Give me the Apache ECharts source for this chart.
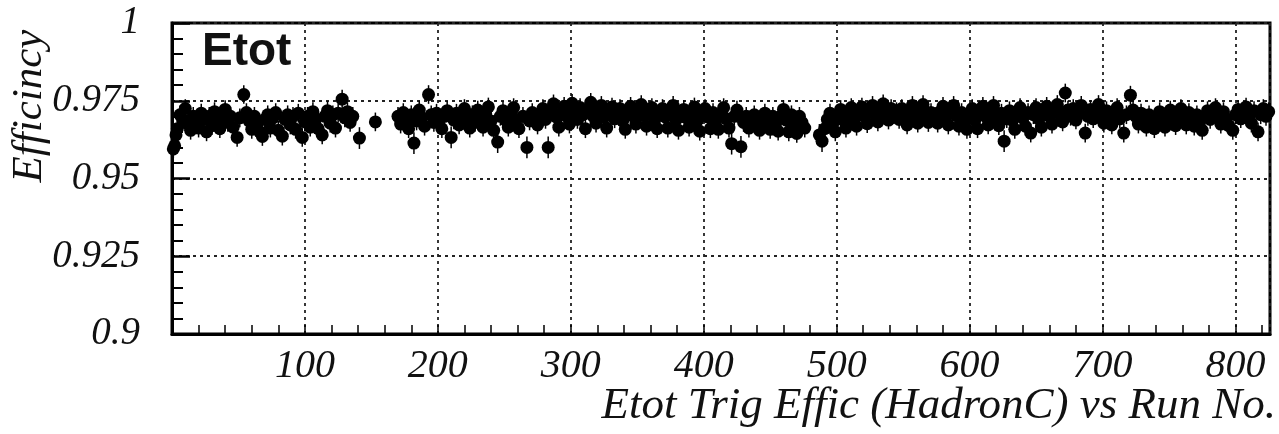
<!DOCTYPE html>
<html>
<head>
<meta charset="utf-8">
<script src="https://cdn.jsdelivr.net/npm/echarts@6/dist/echarts.min.js"></script>
<style>html,body{margin:0;padding:0;background:#fff}#c{width:1279px;height:434px}</style>
</head>
<body>
<div id="c"></div>
<script>
// [run, efficiency, error]
const segA = [
[1,0.9595,0.003],[2,0.9605,0.003],[3,0.9640,0.003],[4,0.9660,0.003],[6,0.9705,0.003],[8,0.9690,0.003],[10,0.9725,0.003],[12,0.9675,0.003],[14,0.9655,0.003],[16,0.9700,0.003],
[18,0.9685,0.003],[20,0.9662,0.003],[22,0.9710,0.003],[24,0.9690,0.003],[26,0.9650,0.003],[28,0.9700,0.003],[30,0.9670,0.003],[32,0.9715,0.003],[34,0.9692,0.003],[36,0.9660,0.003],
[38,0.9705,0.003],[40,0.9722,0.003],[42,0.9680,0.003],[44,0.9700,0.003],[46,0.9665,0.003],[49,0.9632,0.003],[51,0.9695,0.003],[54,0.9770,0.003],[56,0.9712,0.003],[58,0.9685,0.003],
[60,0.9658,0.003],[62,0.9700,0.003],[64,0.9672,0.003],[66,0.9650,0.003],[68,0.9635,0.003],[70,0.9690,0.003],[72,0.9705,0.003],[74,0.9662,0.003],[76,0.9695,0.003],[78,0.9712,0.003],
[80,0.9655,0.003],[83,0.9636,0.003],[85,0.9690,0.003],[87,0.9705,0.003],[89,0.9672,0.003],[91,0.9700,0.003],[93,0.9658,0.003],[95,0.9710,0.003],[98,0.9632,0.003],[100,0.9682,0.003],
[102,0.9700,0.003],[104,0.9665,0.003],[106,0.9715,0.003],[108,0.9690,0.003],[110,0.9660,0.003],[113,0.9640,0.003],[115,0.9700,0.003],[117,0.9718,0.003],[119,0.9678,0.003],[121,0.9705,0.003],
[123,0.9662,0.003],[125,0.9710,0.003],[128,0.9755,0.003],[130,0.9695,0.003],[132,0.9715,0.003],[134,0.9680,0.003],[136,0.9700,0.003]
];
const segB = [[141,0.9630,0.0035],[153,0.9682,0.003]];
const segC = [
[170,0.9700,0.003],[172,0.9675,0.003],[174,0.9712,0.003],[176,0.9690,0.003],[178,0.9660,0.003],[180,0.9705,0.003],[182,0.9614,0.0035],[184,0.9685,0.003],[186,0.9720,0.003],[188,0.9695,0.003],
[190,0.9668,0.003],[193,0.9770,0.003],[195,0.9705,0.003],[197,0.9680,0.003],[199,0.9710,0.003],[201,0.9692,0.003],[203,0.9660,0.003],[205,0.9700,0.003],[207,0.9718,0.003],[210,0.9632,0.0035],
[212,0.9688,0.003],[214,0.9710,0.003],[216,0.9672,0.003],[218,0.9702,0.003],[220,0.9725,0.003],[222,0.9688,0.003],[224,0.9662,0.003],[226,0.9705,0.003],[228,0.9680,0.003],[230,0.9720,0.003],
[232,0.9695,0.003],[234,0.9665,0.003],[236,0.9708,0.003],[238,0.9730,0.003],[240,0.9685,0.003],[242,0.9655,0.003],[245,0.9617,0.0035],[247,0.9700,0.003],[249,0.9718,0.003],[251,0.9688,0.003],
[253,0.9665,0.003],[255,0.9705,0.003],[257,0.9728,0.003],[259,0.9690,0.003],[261,0.9660,0.003],[264,0.9700,0.003],[267,0.9600,0.0035],[269,0.9685,0.003],[271,0.9712,0.003],[273,0.9695,0.003]
];
const segD = [
[275,0.9672,0.003],[277,0.9705,0.003],[279,0.9725,0.003],[281,0.9690,0.003],[283,0.9600,0.0035],[285,0.9715,0.003],[287,0.9740,0.003],[289,0.9698,0.003],[291,0.9665,0.003],[293,0.9710,0.003],
[295,0.9732,0.003],[297,0.9700,0.003],[299,0.9675,0.003],[301,0.9742,0.003],[303,0.9715,0.003],[305,0.9690,0.003],[307,0.9728,0.003],[309,0.9705,0.003],[311,0.9660,0.003],[313,0.9720,0.003],
[315,0.9745,0.003],[317,0.9700,0.003],[319,0.9678,0.003],[321,0.9715,0.003],[323,0.9735,0.003],[325,0.9698,0.003],[327,0.9662,0.003],[329,0.9712,0.003],[331,0.9730,0.003],[333,0.9692,0.003],
[335,0.9708,0.003],[337,0.9725,0.003],[339,0.9685,0.003],[341,0.9658,0.003],[343,0.9710,0.003],[345,0.9732,0.003],[347,0.9700,0.003],[349,0.9675,0.003],[351,0.9718,0.003],[353,0.9738,0.003],
[355,0.9702,0.003],[357,0.9668,0.003],[359,0.9712,0.003],[361,0.9728,0.003],[363,0.9690,0.003],[365,0.9660,0.003],[367,0.9705,0.003],[369,0.9725,0.003],[371,0.9698,0.003],[373,0.9662,0.003],
[375,0.9715,0.003],[377,0.9735,0.003],[379,0.9688,0.003],[381,0.9655,0.003],[383,0.9708,0.003],[385,0.9722,0.003],[387,0.9695,0.003],[389,0.9665,0.003],[391,0.9710,0.003],[393,0.9730,0.003],
[395,0.9685,0.003],[397,0.9652,0.003],[399,0.9705,0.003],[401,0.9725,0.003],[403,0.9698,0.003],[405,0.9660,0.003],[407,0.9712,0.003],[409,0.9688,0.003],[411,0.9658,0.003],[413,0.9705,0.003],
[415,0.9728,0.003],[417,0.9692,0.003],[419,0.9662,0.003],[421,0.9612,0.0035],[423,0.9700,0.003],[425,0.9720,0.003],[428,0.9602,0.0035],[430,0.9680,0.003],[432,0.9700,0.003],[434,0.9662,0.003],
[436,0.9688,0.003],[438,0.9705,0.003],[440,0.9675,0.003],[442,0.9655,0.003],[444,0.9695,0.003],[446,0.9710,0.003],[448,0.9680,0.003],[450,0.9658,0.003],[452,0.9700,0.003],[454,0.9678,0.003],
[456,0.9652,0.003],[458,0.9700,0.003],[460,0.9722,0.003],[462,0.9688,0.003],[464,0.9650,0.003],[466,0.9705,0.003],[468,0.9678,0.003],[470,0.9645,0.003],[472,0.9700,0.003],[474,0.9680,0.003],
[476,0.9662,0.003]
];
const segE = [
[487,0.9640,0.0035],[489,0.9620,0.0035],[491,0.9660,0.003],[493,0.9690,0.003],[495,0.9710,0.003],[497,0.9675,0.003],[499,0.9650,0.003],[501,0.9700,0.003],[503,0.9722,0.003],[505,0.9688,0.003],
[507,0.9662,0.003],[509,0.9705,0.003],[511,0.9728,0.003],[513,0.9692,0.003],[515,0.9668,0.003],[517,0.9712,0.003],[519,0.9730,0.003],[521,0.9700,0.003],[523,0.9676,0.003],[525,0.9718,0.003],
[527,0.9735,0.003],[529,0.9705,0.003],[531,0.9682,0.003],[533,0.9720,0.003],[535,0.9740,0.003],[537,0.9710,0.003],[539,0.9688,0.003],[541,0.9725,0.003],[543,0.9705,0.003]
];
const segF = [
[545,0.9715,0.003],[547,0.9690,0.003],[549,0.9725,0.003],[551,0.9705,0.003],[553,0.9672,0.003],[555,0.9718,0.003],[557,0.9735,0.003],[559,0.9700,0.003],[561,0.9678,0.003],[563,0.9720,0.003],
[565,0.9738,0.003],[567,0.9705,0.003],[569,0.9680,0.003],[571,0.9712,0.003],[574,0.9700,0.003],[576,0.9678,0.003],[578,0.9715,0.003],[580,0.9732,0.003],[582,0.9700,0.003],[584,0.9672,0.003],
[586,0.9718,0.003],[588,0.9735,0.003],[590,0.9702,0.003],[592,0.9668,0.003],[594,0.9712,0.003],[596,0.9688,0.003],[598,0.9658,0.003],[600,0.9705,0.003],[602,0.9725,0.003],[604,0.9688,0.003],
[606,0.9660,0.003],[608,0.9710,0.003],[610,0.9732,0.003],[612,0.9700,0.003],[614,0.9672,0.003],[616,0.9715,0.003],[618,0.9735,0.003],[620,0.9700,0.003],[622,0.9670,0.003],[624,0.9710,0.003],
[626,0.9620,0.0035],[628,0.9692,0.003],[630,0.9718,0.003],[632,0.9688,0.003],[634,0.9658,0.003],[636,0.9705,0.003],[638,0.9728,0.003],[640,0.9695,0.003],[642,0.9668,0.003],[644,0.9712,0.003],
[646,0.9646,0.003],[648,0.9705,0.003],[650,0.9728,0.003],[652,0.9692,0.003],[654,0.9665,0.003],[656,0.9710,0.003],[658,0.9732,0.003],[660,0.9700,0.003],[662,0.9675,0.003],[664,0.9718,0.003],
[666,0.9738,0.003],[668,0.9705,0.003],[670,0.9682,0.003],[672,0.9775,0.003],[674,0.9720,0.003]
];
const segG = [
[676,0.9700,0.003],[678,0.9725,0.003],[680,0.9688,0.003],[682,0.9712,0.003],[684,0.9735,0.003],[687,0.9646,0.003],[689,0.9700,0.003],[691,0.9722,0.003],[693,0.9692,0.003],[695,0.9715,0.003],
[697,0.9738,0.003],[699,0.9702,0.003],[701,0.9678,0.003],[703,0.9718,0.003],[705,0.9700,0.003],[707,0.9672,0.003],[709,0.9712,0.003],[711,0.9728,0.003],[713,0.9692,0.003],[716,0.9646,0.003],
[718,0.9705,0.003],[721,0.9768,0.003],[723,0.9720,0.003],[725,0.9700,0.003],[727,0.9675,0.003],[729,0.9710,0.003],[731,0.9688,0.003],[733,0.9665,0.003],[735,0.9705,0.003],[737,0.9685,0.003],
[739,0.9660,0.003],[741,0.9700,0.003],[743,0.9715,0.003],[745,0.9688,0.003],[747,0.9665,0.003],[749,0.9705,0.003],[751,0.9720,0.003],[753,0.9692,0.003],[755,0.9670,0.003],[757,0.9710,0.003],
[759,0.9725,0.003],[761,0.9695,0.003],[763,0.9672,0.003],[765,0.9712,0.003],[767,0.9692,0.003],[769,0.9668,0.003],[771,0.9705,0.003],[773,0.9685,0.003],[775,0.9655,0.003],[777,0.9700,0.003],
[779,0.9718,0.003],[781,0.9690,0.003],[783,0.9710,0.003],[785,0.9728,0.003],[787,0.9700,0.003],[789,0.9675,0.003],[791,0.9715,0.003],[793,0.9692,0.003],[795,0.9670,0.003],[798,0.9655,0.003],
[800,0.9705,0.003],[802,0.9722,0.003],[804,0.9692,0.003],[806,0.9712,0.003],[808,0.9730,0.003],[810,0.9700,0.003],[812,0.9678,0.003],[814,0.9718,0.003],[817,0.9650,0.003],[819,0.9705,0.003],
[821,0.9725,0.003],[823,0.9700,0.003],[825,0.9715,0.003]
];
const xLabelValues = [100,200,300,400,500,600,700,800];
const xTickValues = [20,40,60,80,100,120,140,160,180,200,220,240,260,280,300,320,340,360,380,400,420,440,460,480,500,520,540,560,580,600,620,640,660,680,700,720,740,760,780,800,820];
const panelLabel = 'Etot';
const yTitle = 'Efficincy';
const xTitle = 'Etot Trig Effic (HadronC) vs Run No.';

const points = [].concat(segA, segB, segC, segD, segE, segF, segG);
const chart = echarts.init(document.getElementById('c'), null, {renderer: 'canvas'});
const serif = "'Liberation Serif','DejaVu Serif',serif";
const gridStyle = {color: '#222', width: 1.8, type: [3, 4]};
chart.setOption({
  animation: false,
  backgroundColor: '#fff',
  grid: {left: 172, top: 23, right: 9, bottom: 100, show: true, borderColor: '#000', borderWidth: 3, backgroundColor: 'transparent'},
  xAxis: [{
    type: 'value', min: 0, max: 826, interval: 100, position: 'bottom',
    axisLine: {show: true, onZero: false, lineStyle: {color: '#000', width: 3}},
    axisTick: {show: true, inside: true, length: 9, customValues: xTickValues, lineStyle: {color: '#000', width: 1.5}},
    axisLabel: {customValues: xLabelValues, margin: 12, fontFamily: serif, fontStyle: 'italic', fontSize: 40, color: '#111'},
    splitLine: {show: false}
  }, {
    type: 'value', min: 0, max: 826, interval: 100, position: 'top',
    axisLine: {show: false}, axisTick: {show: false}, axisLabel: {show: false},
    splitLine: {show: true, lineStyle: gridStyle}
  }],
  yAxis: {
    type: 'value', min: 0.9, max: 1, interval: 0.025,
    axisLine: {show: true, onZero: false, lineStyle: {color: '#000', width: 3}},
    axisTick: {show: true, inside: true, length: 18, lineStyle: {color: '#000', width: 2.5}},
    minorTick: {show: true, splitNumber: 5, length: 11, lineStyle: {color: '#000', width: 2}},
    axisLabel: {margin: 32, fontFamily: serif, fontStyle: 'italic', fontSize: 39, color: '#111',
      formatter: v => (Math.abs(v - 1) < 1e-9 ? '1' : String(+v.toFixed(3)))},
    splitLine: {show: true, lineStyle: gridStyle}
  },
  graphic: [
    {type: 'text', left: 202, top: 29, z: 10, style: {text: panelLabel, font: "900 46px 'Liberation Sans', Arial, sans-serif", fill: '#111'}},
    {type: 'text', x: 30, y: 106, rotation: Math.PI / 2, z: 10,
      style: {text: yTitle, font: "italic 43px 'Liberation Serif', serif", fill: '#111', textAlign: 'center', textVerticalAlign: 'middle'}},
    {type: 'text', x: 1276, y: 406, z: 10,
      style: {text: xTitle, font: "italic 45px 'Liberation Serif', serif", fill: '#111', textAlign: 'right', textVerticalAlign: 'middle'}}
  ],
  series: [
    {
      type: 'custom',
      data: points,
      renderItem: function (params, api) {
        const x = api.value(0), y = api.value(1), e = api.value(2);
        const p1 = api.coord([x, y - e]);
        const p2 = api.coord([x, y + e]);
        return {type: 'line', shape: {x1: p1[0], y1: p1[1], x2: p2[0], y2: p2[1]}, style: {stroke: '#000', lineWidth: 1.5}};
      },
      encode: {x: 0, y: 1},
      z: 2
    },
    {
      type: 'scatter',
      data: points.map(p => [p[0], p[1]]),
      symbol: 'circle', symbolSize: 13,
      itemStyle: {color: '#000', opacity: 1},
      z: 3
    }
  ]
});
</script>
</body>
</html>
